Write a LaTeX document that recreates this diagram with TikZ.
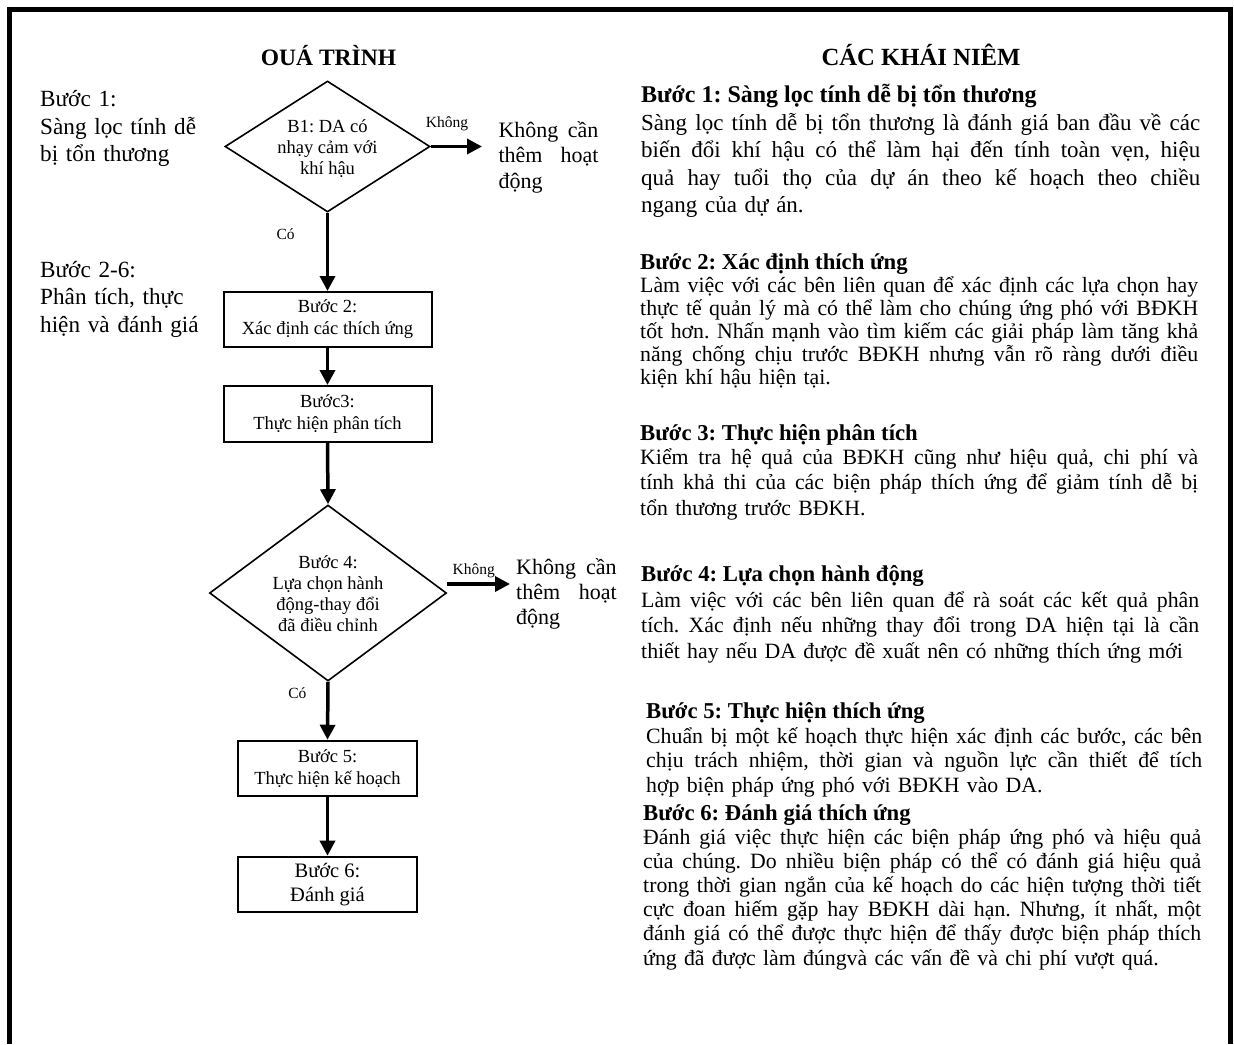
\documentclass[tikz,border=0pt]{standalone}
\usepackage{fontspec}
\setmainfont{Liberation Serif}
\usetikzlibrary{shapes.geometric,arrows.meta}
\lineskiplimit=-100pt
\frenchspacing
\newcommand{\jl}[1]{\makebox[\hsize][s]{\spaceskip=\fontdimen2\font plus 1fil\relax #1}\\}
\tikzset{
  para/.style={anchor=base west, inner sep=0pt},
  stepbox/.style={draw, line width=2pt, inner sep=0pt, align=center, font=\fontsize{18.5}{22}\selectfont},
  dia/.style={draw, diamond, line width=1.6pt, inner sep=0pt},
  diatext/.style={align=center, inner sep=0pt, font=\fontsize{18.5}{20.8}\selectfont},
  conn/.style={line width=3.5pt, -{Triangle[length=15pt,width=15pt]}},
  lbl/.style={inner sep=0pt, font=\fontsize{15.5}{18}\selectfont},
  hd/.style={anchor=base, inner sep=0pt, font=\bfseries\fontsize{23.5}{28}\selectfont},
  sh/.style={para, align=left, font=\bfseries\fontsize{22.7}{26}\selectfont},
}
\begin{document}
\begin{tikzpicture}[x=1pt,y=-1pt]
\useasboundingbox (0,0) rectangle (1234,1044);
\draw[line width=5pt] (9.5,1044) -- (9.5,9.5) -- (1230.5,9.5) -- (1230.5,1044);

% headings
\node[hd] (h1) at (328.5,65) {OUÁ TRÌNH};
\node[hd, font=\bfseries\fontsize{24.7}{28}\selectfont] (h2) at (921,65) {CÁC KHÁI NIÊM};

% left labels
\node[para, text width=200pt, font=\fontsize{23.2}{27.5}\selectfont] (l1) at (40,106.7) {Bước 1:\\Sàng lọc tính dễ\\bị tổn thương};
\node[para, text width=200pt, font=\fontsize{23.2}{27.5}\selectfont] (l2) at (40,277) {Bước 2-6:\\Phân tích, thực\\hiện và đánh giá};

% flowchart
\node[dia, minimum width=205pt, minimum height=131pt] (d1) at (327.5,146.5) {};
\node[diatext] (d1t) at (327.5,148.5) {B1: DA có\\nhạy cảm với\\khí hậu};
\node[stepbox, minimum width=208pt, minimum height=55pt] (b2) at (327.5,319.5) {Bước 2:\\Xác định các thích ứng};
\node[stepbox, minimum width=208pt, minimum height=55.5pt] (b3) at (327.5,413.75) {Bước3:\\Thực hiện phân tích};
\node[dia, minimum width=237pt, minimum height=176pt] (d2) at (328,593) {};
\node[diatext] (d2t) at (328,593.5) {Bước 4:\\Lựa chọn hành\\động-thay đổi\\đã điều chỉnh};
\node[stepbox, minimum width=179pt, minimum height=55.3pt] (b5) at (327.5,768.4) {Bước 5:\\Thực hiện kế hoạch};
\node[stepbox, minimum width=179pt, minimum height=55.6pt, font=\fontsize{20.5}{23.4}\selectfont] (b6) at (327.5,884.5) {Bước 6:\\Đánh giá};

\draw[conn] (d1.south) -- (b2.north);
\draw[conn] (b2.south) -- (b3.north);
\draw[conn] (b3.south) -- (d2.north);
\draw[conn] (d2.south) -- (b5.north);
\draw[conn] (b5.south) -- (b6.north);

\coordinate (k1) at (482,146.5);
\draw[conn] (d1.east) -- (k1);
\coordinate (k2s) at (447,584);
\coordinate (k2e) at (510,584);
\draw[conn] (k2s) -- (k2e);

\node[lbl] (kl1) at (447,123.3) {Không};
\node[lbl] (kl2) at (473.7,570.7) {Không};
\node[lbl] (cl1) at (285.6,234.3) {Có};
\node[lbl] (cl2) at (297.3,693) {Có};

\node[para, text width=100pt, font=\fontsize{22}{25.5}\selectfont] (o1) at (498.3,137) {\jl{Không cần}\jl{thêm hoạt}động};
\node[para, text width=100.5pt, font=\fontsize{22}{25}\selectfont] (o2) at (516,574) {\jl{Không cần}\jl{thêm hoạt}động};

% right column
\node[sh, font=\bfseries\fontsize{24}{28}\selectfont] (s1h) at (641,102.7) {Bước 1: Sàng lọc tính dễ bị tổn thương};
\node[para, text width=559pt, font=\fontsize{23}{27.5}\selectfont] (s1b) at (641,130) {%
\jl{Sàng lọc tính dễ bị tổn thương là đánh giá ban đầu về các}%
\jl{biến đổi khí hậu có thể làm hại đến tính toàn vẹn, hiệu}%
\jl{quả hay tuổi thọ của dự án theo kế hoạch theo chiều}%
ngang của dự án.};

\node[sh] (s2h) at (640,269) {Bước 2: Xác định thích ứng};
\node[para, text width=558pt, font=\fontsize{21.8}{23}\selectfont] (s2b) at (640,292) {%
\jl{Làm việc với các bên liên quan để xác định các lựa chọn hay}%
\jl{thực tế quản lý mà có thể làm cho chúng ứng phó với BĐKH}%
\jl{tốt hơn. Nhấn mạnh vào tìm kiếm các giải pháp làm tăng khả}%
\jl{năng chống chịu trước BĐKH nhưng vẫn rõ ràng dưới điều}%
kiện khí hậu hiện tại.};

\node[sh] (s3h) at (640,440) {Bước 3: Thực hiện phân tích};
\node[para, text width=558pt, font=\fontsize{21.8}{25.8}\selectfont] (s3b) at (640,464) {%
\jl{Kiểm tra hệ quả của BĐKH cũng như hiệu quả, chi phí và}%
\jl{tính khả thi của các biện pháp thích ứng để giảm tính dễ bị}%
tổn thương trước BĐKH.};

\node[sh] (s4h) at (641,581) {Bước 4: Lựa chọn hành động};
\node[para, text width=558pt, font=\fontsize{21.8}{25.8}\selectfont] (s4b) at (641,607) {%
\jl{Làm việc với các bên liên quan để rà soát các kết quả phân}%
\jl{tích. Xác định nếu những thay đổi trong DA hiện tại là cần}%
thiết hay nếu DA được đề xuất nên có những thích ứng mới};

\node[sh] (s5h) at (646,718) {Bước 5: Thực hiện thích ứng};
\node[para, text width=556pt, font=\fontsize{21.8}{24.8}\selectfont] (s5b) at (646,743) {%
\jl{Chuẩn bị một kế hoạch thực hiện xác định các bước, các bên}%
\jl{chịu trách nhiệm, thời gian và nguồn lực cần thiết để tích}%
hợp biện pháp ứng phó với BĐKH vào DA.};

\node[sh] (s6h) at (643,820) {Bước 6: Đánh giá thích ứng};
\node[para, text width=558pt, font=\fontsize{21.8}{24.2}\selectfont] (s6b) at (643,844) {%
\jl{Đánh giá việc thực hiện các biện pháp ứng phó và hiệu quả}%
\jl{của chúng. Do nhiều biện pháp có thể có đánh giá hiệu quả}%
\jl{trong thời gian ngắn của kế hoạch do các hiện tượng thời tiết}%
\jl{cực đoan hiếm gặp hay BĐKH dài hạn. Nhưng, ít nhất, một}%
\jl{đánh giá có thể được thực hiện để thấy được biện pháp thích}%
ứng đã được làm đúngvà các vấn đề và chi phí vượt quá.};
\end{tikzpicture}
\end{document}
